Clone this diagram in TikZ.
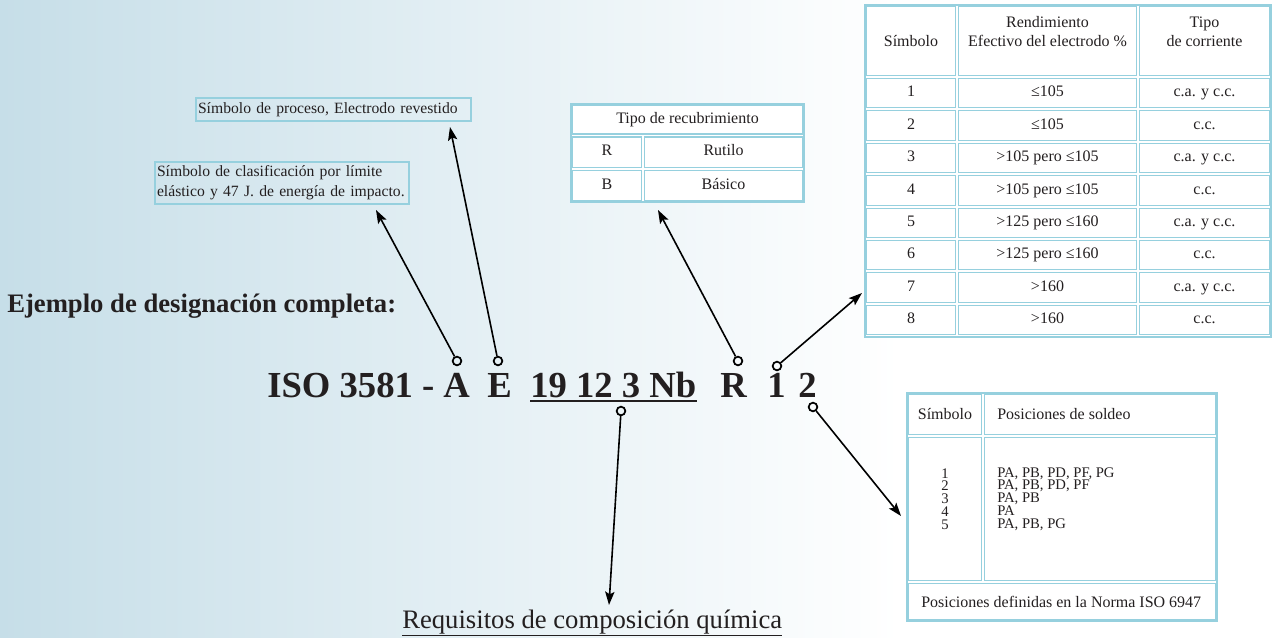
\documentclass[tikz,border=0pt]{standalone}
\usepackage{fontspec}
\setmainfont{Liberation Serif}
\usetikzlibrary{arrows.meta,positioning,calc}
\definecolor{bgblue}{RGB}{198,222,232}
\definecolor{tblue}{RGB}{150,208,222}
\definecolor{ink}{RGB}{35,31,32}

\begin{document}
\begin{tikzpicture}[x=0.75pt, y=-0.75pt,
  cell/.style={draw=tblue, fill=white, line width=0.8pt, inner sep=0pt,
    text=ink, font=\fontsize{12}{14.25}\selectfont, align=center},
  rowcell/.style={cell, text height=8.2pt, text depth=2.6pt},
  txt/.style={inner sep=0pt, text=ink, font=\fontsize{12}{14.25}\selectfont},
  tblframe/.style={draw=tblue, fill=white, line width=0.8pt},
  note/.style={draw=tblue, line width=1.5pt, inner xsep=1.5pt, inner ysep=0pt,
    anchor=north west, align=left, text=ink, font=\fontsize{11.75}{15}\selectfont},
  code/.style={anchor=base west, inner sep=0pt, text=ink,
    font=\fontsize{27.5}{30}\selectfont\bfseries},
  dot/.style={circle, draw=black, line width=1.3pt, minimum size=6.5pt, inner sep=0pt},
  ptr/.style={-{Stealth[length=10pt,width=7pt,inset=2pt]}, line width=1.2pt},
]
% background
\shade[left color=bgblue, right color=white] (0,0) rectangle (900,637);
\fill[white] (900,0) rectangle (1272,637);
\useasboundingbox (0,0) rectangle (1272,637);

% headings
\node[anchor=base west, inner sep=0pt, text=ink,
  font=\fontsize{20}{24}\selectfont\bfseries] (title) at (7,312)
  {Ejemplo de designación completa:};
\node[code] (iso) at (267,397) {ISO 3581 - A};
\node[code] (codeE) at (487,397) {E};
\node[code] (codeNum) at (530,397) {19 12 3 Nb};
\node[code] (codeR) at (720,397) {R};
\node[code] (codeOne) at (767,397) {1};
\node[code] (codeTwo) at (798,397) {2};
\draw[ink, line width=1.8pt] ($(codeNum.base west)+(0,4)$) -- ($(codeNum.base east)+(0,4)$);
\node[anchor=base west, inner sep=0pt, text=ink,
  font=\fontsize{20}{24}\selectfont] (quim) at (402,628)
  {\underline{Requisitos de composición química}};

% notes
\node[note, text width=203pt, minimum width=206pt, minimum height=17.25pt]
  (proc) at (195,97) {Símbolo de proceso, Electrodo revestido};
\node[note, text width=187.5pt, minimum width=190.5pt, minimum height=31.5pt]
  (clas) at (154,161) {\mbox{Símbolo de clasificación por límite}\\
  \mbox{elástico y 47 J. de energía de impacto.}};

% table: recubrimiento
\draw[tblframe] (571,104) rectangle (804,202);
\node[rowcell, minimum width=172.5pt, minimum height=21.4pt] (rechead) at (687.5,119.75)
  {Tipo de recubrimiento};
\node[rowcell, minimum width=51.75pt, minimum height=22.9pt] (recR) at (607,152.25) {R};
\node[rowcell, minimum width=118.5pt, minimum height=22.9pt] (recRut) at (723.5,152.25) {Rutilo};
\node[rowcell, minimum width=51.75pt, minimum height=22.9pt] (recB) at (607,185.5) {B};
\node[rowcell, minimum width=118.5pt, minimum height=22.9pt] (recBas) at (723.5,185.5) {Básico};

% table: rendimiento
\draw[tblframe] (865,5) rectangle (1271,337);
\node[cell, minimum width=66.75pt, minimum height=51.75pt] (symhead) at (911,41) {Símbolo};
\node[cell, minimum width=133.5pt, minimum height=51.75pt] (renhead) at (1047.5,41)
  {Rendimiento\\Efectivo del electrodo \%\\\mbox{}};
\node[cell, minimum width=97.5pt, minimum height=51.75pt] (corhead) at (1204.5,41)
  {Tipo\\de corriente\\\mbox{}};
\foreach \s/\ren/\cor [count=\i] in {1/≤105/c.a. y c.c., 2/≤105/c.c.,
    3/>105 pero ≤105/c.a. y c.c., 4/>105 pero ≤105/c.c.,
    5/>125 pero ≤160/c.a. y c.c., 6/>125 pero ≤160/c.c.,
    7/>160/c.a. y c.c., 8/>160/c.c.} {
  \pgfmathsetmacro\yc{60.8+32.4*\i}
  \node[rowcell, minimum width=66.75pt, minimum height=22pt] (sym\i) at (911,\yc) {\s};
  \node[rowcell, minimum width=133.5pt, minimum height=22pt] (ren\i) at (1047.5,\yc) {\ren};
  \node[rowcell, minimum width=97.5pt, minimum height=22pt] (cor\i) at (1204.5,\yc) {\cor};
}

% table: posiciones
\draw[tblframe] (907,393) rectangle (1217,621);
\node[cell, minimum width=54.75pt, minimum height=30pt] (poshead) at (945,414.5) {Símbolo};
\node[cell, minimum width=173.25pt, minimum height=30pt] (posheadB) at (1100,414.5) {};
\node[txt, anchor=west] (postitle) at (997,414.5) {Posiciones de soldeo};
\node[cell, minimum width=54.75pt, minimum height=107.25pt] (posnum) at (945,509) {};
\node[cell, minimum width=173.25pt, minimum height=107.25pt] (poslist) at (1100,509) {};
\node[txt, align=center, font=\fontsize{11}{9.6}\selectfont] (nums) at (945,499)
  {1\\2\\3\\4\\5};
\node[txt, align=left, anchor=west, font=\fontsize{11}{9.6}\selectfont] (lists) at (997,499)
  {PA, PB, PD, PF, PG\\PA, PB, PD, PF\\PA, PB\\PA\\PA, PB, PG};
\node[cell, minimum width=230.25pt, minimum height=27pt] (posfoot) at (1062,601.5) {};
\node[txt, anchor=west] (norma) at (921,601.5) {Posiciones definidas en la Norma ISO 6947};

% pointers
\node[dot] (dA) at (457,361) {};
\node[dot] (dE) at (498,361) {};
\node[dot] (dR) at (738,361) {};
\node[dot] (dOne) at (777,366) {};
\node[dot] (dTwo) at (813,407) {};
\node[dot] (dNum) at (621,411) {};
\coordinate (tipA) at (376,210);
\coordinate (tipE) at (450,127);
\coordinate (tipR) at (658,210);
\coordinate (tipOne) at (862,293);
\coordinate (tipTwo) at (901,516);
\coordinate (tipNum) at (609,605);
\draw[ptr] (dA) -- (tipA);
\draw[ptr] (dE) -- (tipE);
\draw[ptr] (dR) -- (tipR);
\draw[ptr] (dOne) -- (tipOne);
\draw[ptr] (dTwo) -- (tipTwo);
\draw[ptr] (dNum) -- (tipNum);
\end{tikzpicture}
\end{document}
